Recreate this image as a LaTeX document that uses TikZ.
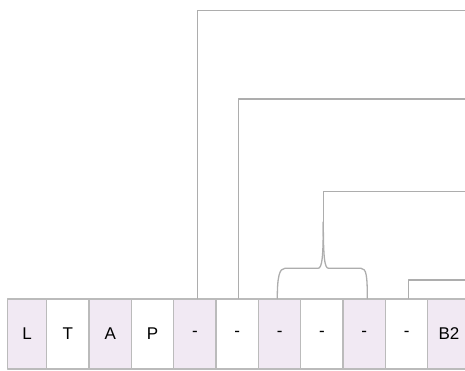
\documentclass[tikz,border=0pt]{standalone}
\usepackage{fontspec}
\setmainfont{Liberation Sans}
\definecolor{cellpurple}{HTML}{F1E9F3}
\definecolor{cellline}{HTML}{BBBBBB}
\definecolor{linkgray}{HTML}{ADADAD}
\begin{document}
\begin{tikzpicture}[x=1pt, y=1pt, line join=round, line cap=round,
	cell/.style={draw=cellline, line width=1.3pt, minimum height=70pt, inner sep=0pt, font=\fontsize{17}{20}\selectfont},
	link/.style={draw=linkgray, line width=1.3pt}]
	\useasboundingbox (0,0) rectangle (465,370);
	% row of cells
	\node[cell, fill=cellpurple, minimum width=39.4pt] (c1) at (27,36) {L};
	\foreach \lbl [count=\i from 2] in {T,A,P,-,-,-,-,-,-,B2}{
		\pgfmathsetmacro{\shade}{mod(\i,2)==1 ? "cellpurple" : "white"}
		\node[cell, fill=\shade, minimum width=42.35pt] (c\i) at ({46.67+42.35*(\i-1.5)},36) {\lbl};
	}
	% free ends at the right edge
	\coordinate (e1) at (465,359.3);
	\coordinate (e2) at (465,271);
	\coordinate (e3) at (465,178.3);
	\coordinate (e4) at (465,90);
	\coordinate (tip) at (323.3,148);
	% connectors
	\draw[link] ([xshift=2.5pt]c5.north) |- (e1);
	\draw[link] ([xshift=1pt]c6.north) |- (e2);
	\draw[link] ([xshift=1.5pt]c10.north) |- (e4);
	\draw[link] (tip) |- (e3);
	% brace over three cells
	\draw[link] ([xshift=-2.3pt]c7.north) .. controls +(0,22) and (279.5,101.7) .. (285,101.7)
		-- (318,101.7) .. controls (322,101.7) and (323.3,112) .. (tip);
	\draw[link] ([xshift=3pt]c9.north) .. controls +(0,22) and (366.5,101.7) .. (361,101.7)
		-- (328.6,101.7) .. controls (324.6,101.7) and (323.3,112) .. (tip);
\end{tikzpicture}
\end{document}
